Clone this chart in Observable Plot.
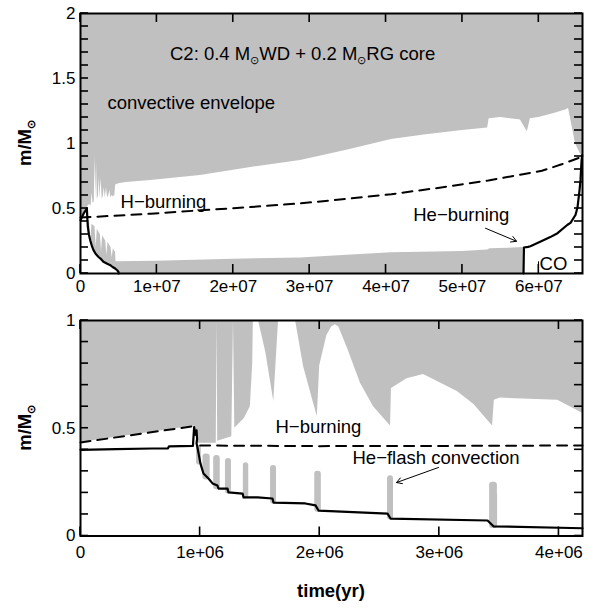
<!DOCTYPE html>
<html><head><meta charset="utf-8">
<script src="https://cdn.jsdelivr.net/npm/d3@7"></script>
<script src="https://cdn.jsdelivr.net/npm/@observablehq/plot@0.6"></script>
<style>
body{margin:0;background:#fff;}
#wrap{position:relative;width:595px;height:609px;}
#top,#bot{position:absolute;left:0;}
#top{top:0}#bot{top:300px}
</style></head><body>
<div id="wrap"><div id="top"></div><div id="bot"></div></div>
<script>
const FONT = '"Liberation Sans", Arial, Helvetica, sans-serif';
const GRAY = "#c0c0c0";

// ---------- TOP PANEL (time in units of 1e7 yr, mass in Msun) ----------
const topXMax = 6.572;
// upper edge of the white (radiative, H-burning) zone = base of convective envelope
const topHiT = [0.08,0.10,0.12,0.14,0.15,0.165,0.18,0.19,0.20,0.21,0.22,0.235,0.245,0.255,0.27,0.285,0.30,0.31,0.325,0.34,0.355,0.37,0.385,0.395,0.41,0.43,0.45,0.46,0.5,0.6,0.92,1.57,2.23,2.88,3.5,4.07,4.5,5.0,5.33,5.35,5.5,5.76,5.82,5.85,5.89,6.0,6.2,6.35,6.39,6.48,6.546,6.572];
const topHiM = [0.50,0.52,0.53,0.52,0.62,0.54,0.55,0.91,0.58,0.86,0.57,0.60,0.74,0.58,0.73,0.57,0.60,0.66,0.58,0.66,0.58,0.60,0.64,0.58,0.60,0.59,0.60,0.68,0.69,0.70,0.716,0.754,0.816,0.87,0.95,1.03,1.065,1.10,1.12,1.19,1.20,1.18,1.12,1.09,1.19,1.20,1.23,1.257,1.27,1.0,0.92,0.90];
// upper edge of the lower grey (convective) zone
const topLoT = [0.08,0.10,0.12,0.135,0.15,0.17,0.19,0.205,0.22,0.24,0.26,0.275,0.29,0.31,0.33,0.345,0.36,0.38,0.40,0.415,0.43,0.45,0.458,0.465,1.0,2.0,2.88,4.07,5.0,5.33,5.36,5.6,5.795,5.80,6.572];
const topLoM = [0.42,0.41,0.40,0.24,0.38,0.37,0.36,0.20,0.34,0.32,0.30,0.17,0.29,0.27,0.25,0.14,0.24,0.22,0.20,0.12,0.19,0.17,0.17,0.09,0.095,0.11,0.12,0.16,0.17,0.18,0.19,0.195,0.20,0,0];
// H-burning shell (dashed)
const topDashT = [0,0.92,1.57,2.2,2.89,3.5,4.07,4.7,5.34,6.04,6.3,6.572];
const topDashM = [0.43,0.46,0.486,0.51,0.54,0.575,0.61,0.66,0.716,0.79,0.84,0.90];
// He core boundary (solid), left part
const topSolidLT = [0,0.04,0.083,0.09,0.096,0.11,0.127,0.15,0.17,0.2,0.236,0.27,0.30,0.35,0.39,0.42,0.454,0.48,0.497,0.50];
const topSolidLM = [0.41,0.46,0.50,0.42,0.36,0.30,0.256,0.21,0.18,0.15,0.127,0.11,0.09,0.075,0.064,0.05,0.038,0.025,0.012,0];
// He-burning / CO core boundary (solid), right part
const topSolidRT = [5.80,5.805,5.86,5.89,6.06,6.15,6.245,6.376,6.415,6.48,6.507,6.533,6.546,6.56,6.568];
const topSolidRM = [0,0.20,0.205,0.21,0.256,0.28,0.31,0.375,0.39,0.45,0.51,0.64,0.72,0.87,0.91];
const topCOT = [5.996]; const topCOM1 = [0]; const topCOM2 = [0.09];
const topXTicks = [0,1,2,3,4,5,6];
const topXLabels = ["0","1e+07","2e+07","3e+07","4e+07","5e+07","6e+07"];
const topYTicks = [0,0.5,1,1.5,2];
const topYLabels = ["0","0.5","1","1.5","2"];
const topArrow = {x1:[5.302], y1:[0.348], x2:[5.708], y2:[0.248]};
const topTextT = [0.353, 0.524, 4.356, 6.01];
const topTextM = [1.269, 0.501, 0.401, 0.025];
const topTextS = ["convective envelope", "H\u2212burning", "He\u2212burning", "CO"];
const titlePos = [1.178, 1.637];

// ---------- BOTTOM PANEL (time in units of 1e6 yr) ----------
const botXMax = 4.197;
const botEnvT = [0,0.95,0.96,0.975,1.135,1.141,1.147,1.265,1.279,1.29,1.37,1.42,1.44,1.445,1.488,1.55,1.616,1.64,1.656,1.798,1.865,1.94,1.98,2.0,2.06,2.10,2.13,2.16,2.233,2.34,2.45,2.592,2.60,2.73,2.868,3.15,3.29,3.445,3.46,3.51,3.99,4.197];
const botEnvM = [0.434,0.51,0.50,0.43,0.43,1.0,0.44,0.46,1.0,0.50,0.545,0.60,0.80,1.0,1.0,0.85,0.624,0.85,1.0,1.0,0.787,0.633,0.555,0.79,0.93,0.97,0.98,0.97,0.87,0.71,0.60,0.51,0.685,0.73,0.75,0.67,0.61,0.51,0.63,0.64,0.63,0.57];
const botDashT = [0,0.95,0.975,1.0,2.0,3.0,4.197];
const botDashM = [0.434,0.51,NaN,0.42,0.417,0.418,0.42];
const botSolidT = [0,0.3,0.6,0.73,0.74,0.94,0.95,0.96,0.97,0.975,0.97,0.978,1.003,1.028,1.07,1.104,1.145,1.154,1.229,1.237,1.355,1.363,1.48,1.605,1.614,1.88,1.965,1.99,2.567,2.592,3.403,3.453,4.197];
const botSolidM = [0.40,0.403,0.406,0.406,0.416,0.418,0.505,0.47,0.49,0.45,0.43,0.411,0.336,0.29,0.267,0.244,0.234,0.22,0.22,0.202,0.197,0.179,0.179,0.174,0.155,0.151,0.142,0.118,0.104,0.081,0.072,0.045,0.036];
// He-flash convective zones
const flashT = [0.99,1.054,1.141,1.237,1.384,1.614,1.986,2.592,3.453,3.47];
const flashW = [0.04,0.06,0.055,0.05,0.045,0.05,0.055,0.05,0.065,0.035];
const flashTop = [0.42,0.38,0.373,0.36,0.34,0.327,0.30,0.28,0.25,0.20];
const flashBot = [0.33,0.26,0.215,0.195,0.172,0.148,0.11,0.074,0.035,0.035];
const botXTicks = [0,1,2,3,4];
const botXLabels = ["0","1e+06","2e+06","3e+06","4e+06"];
const botYTicks = [0,0.5,1];
const botYLabels = ["0","0.5","1"];
const botArrow = {x1:[2.993], y1:[0.318], x2:[2.642], y2:[0.248]};
const botTextT = [1.63, 2.274];
const botTextM = [0.476, 0.336];
const botTextS = ["H\u2212burning", "He\u2212flash convection"];

// ---------- helpers ----------
const W = 595, ML = 80, MR = 13;
const PW = W - ML - MR;
const zipTM = (T, M, k=1) => T.map((t,i) => ({t: t*k, m: M[i]}));
const minor = (hi) => d3.range(0, Math.round(hi*10)+1).map(i => i/10);
const TSY = 8, TSX = 9, TW = 1.6; // inward tick length / thickness in px

// axis labels + inward tick marks drawn as thin filled rects (px sizes converted to data units)
function axes(xVals, xLabels, k, xMax, yVals, yLabels, yMax, xPad, PH) {
  const xl = new Map(xVals.map((v,i)=>[v*k, xLabels[i]]));
  const yl = new Map(yVals.map((v,i)=>[v, yLabels[i]]));
  const xs = xVals.map(v=>v*k);
  const lx = xMax*TSY/PW, ly = yMax*TSX/PH;     // tick lengths
  const hx = xMax*TW/PW/2, hy = yMax*TW/PH/2;   // half thickness
  const ticks = [
    ...minor(yMax).map(v => ({a:0, b:lx, c:v-hy, d:v+hy})),
    ...minor(yMax).map(v => ({a:xMax-lx, b:xMax, c:v-hy, d:v+hy})),
    ...xs.map(v => ({a:v-hx, b:v+hx, c:0, d:ly})),
    ...xs.map(v => ({a:v-hx, b:v+hx, c:yMax-ly, d:yMax}))
  ];
  return [
    Plot.rect(ticks, {x1:"a", x2:"b", y1:"c", y2:"d", fill:"black"}),
    Plot.axisY(yVals, {anchor:"left", tickSize:0, tickPadding:5, tickFormat:d=>yl.get(d), label:null}),
    Plot.axisX(xs, {anchor:"bottom", tickSize:0, tickPadding:xPad, tickFormat:d=>xl.get(d), label:null})
  ];
}

function rich(svg, x, y, parts, {size=18.5, weight="normal", rotate=0, anchor="start"}={}) {
  const t = d3.select(svg).append("text")
    .attr("font-family", FONT).attr("font-size", size).attr("font-weight", weight)
    .attr("text-anchor", anchor).attr("fill", "black")
    .attr("transform", `translate(${x},${y}) rotate(${rotate})`);
  let shift = 0;
  for (const [s, sub] of parts) {
    const sp = t.append("tspan").text(s);
    const target = sub ? size*0.22 : 0;
    if (target !== shift) { sp.attr("dy", target - shift); shift = target; }
    if (sub) sp.attr("font-size", size*0.62);
  }
  return t;
}

const style = {fontFamily: FONT, fontSize: "17px", color: "black", background: "white", overflow: "visible"};
const lineOpt = {x:"t", y:"m", stroke:"black", strokeWidth:2.2};

// ---------- TOP PLOT ----------
const K1 = 1e7;
const topH = 300, topMT = 13, topMB = 27;
const topPlot = Plot.plot({
  width: W, height: topH,
  marginLeft: ML, marginRight: MR, marginTop: topMT, marginBottom: topMB,
  x: {domain: [0, topXMax*K1]}, y: {domain: [0, 2]},
  style,
  marks: [
    Plot.frame({fill: GRAY}),
    Plot.areaY(zipTM(topHiT, topHiM, K1), {x:"t", y1:0, y2:"m", fill:"white"}),
    Plot.areaY(zipTM(topLoT, topLoM, K1), {x:"t", y1:0, y2:"m", fill:GRAY}),
    Plot.areaY(zipTM(topSolidLT, topSolidLM, K1), {x:"t", y1:0, y2:"m", fill:"white"}),
    Plot.line(zipTM(topDashT, topDashM, K1), {...lineOpt, strokeWidth:2, strokeDasharray:"10,7"}),
    Plot.line(zipTM(topSolidLT, topSolidLM, K1), lineOpt),
    Plot.line(zipTM(topSolidRT, topSolidRM, K1), lineOpt),
    Plot.ruleX(topCOT.map((t,i)=>({t:t*K1, a:topCOM1[i], b:topCOM2[i]})), {x:"t", y1:"a", y2:"b", stroke:"black", strokeWidth:1}),
    Plot.arrow([0], {x1: topArrow.x1[0]*K1, y1: topArrow.y1[0], x2: topArrow.x2[0]*K1, y2: topArrow.y2[0], stroke:"black", strokeWidth:1, headLength:9}),
    Plot.text(topTextS.map((s,i)=>({s, t:topTextT[i]*K1, m:topTextM[i]})), {x:"t", y:"m", text:"s", textAnchor:"start", lineAnchor:"bottom", fontSize:18.5, fill:"black"}),
    ...axes(topXTicks, topXLabels, K1, topXMax*K1, topYTicks, topYLabels, 2, 6, topH - topMT - topMB),
    Plot.frame({stroke:"black", strokeWidth:2})
  ]
});
document.getElementById("top").append(topPlot);
{
  const sx = topPlot.scale("x"), sy = topPlot.scale("y");
  rich(topPlot, sx.apply(titlePos[0]*K1), sy.apply(titlePos[1]),
    [["C2: 0.4 M",0],["\u2299",1],["WD + 0.2 M",0],["\u2299",1],["RG core",0]]);
  rich(topPlot, 31, (sy.apply(0)+sy.apply(2))/2, [["m/M",0],["\u2299",1]], {weight:"bold", rotate:-90, anchor:"middle"});
}

// ---------- BOTTOM PLOT ----------
const K2 = 1e6;
const botH = 309, botMT = 20, botMB = 73.5;
const botPlot = Plot.plot({
  width: W, height: botH,
  marginLeft: ML, marginRight: MR, marginTop: botMT, marginBottom: botMB,
  x: {domain: [0, botXMax*K2]}, y: {domain: [0, 1]},
  style,
  marks: [
    Plot.areaY(zipTM(botEnvT, botEnvM, K2), {x:"t", y1:"m", y2:1, fill:GRAY}),
    Plot.rect(flashT.map((t,i)=>({x1:(t-flashW[i]/2)*K2, x2:(t+flashW[i]/2)*K2, y1:flashBot[i], y2:flashTop[i]})),
      {x1:"x1", x2:"x2", y1:"y1", y2:"y2", fill:GRAY, rx:3}),
    Plot.line(zipTM(botDashT, botDashM, K2), {...lineOpt, strokeWidth:2, strokeDasharray:"10,7"}),
    Plot.line(zipTM(botSolidT, botSolidM, K2), lineOpt),
    Plot.arrow([0], {x1: botArrow.x1[0]*K2, y1: botArrow.y1[0], x2: botArrow.x2[0]*K2, y2: botArrow.y2[0], stroke:"black", strokeWidth:1, headLength:9}),
    Plot.text(botTextS.map((s,i)=>({s, t:botTextT[i]*K2, m:botTextM[i]})), {x:"t", y:"m", text:"s", textAnchor:"start", lineAnchor:"bottom", fontSize:18.5, fill:"black"}),
    ...axes(botXTicks, botXLabels, K2, botXMax*K2, botYTicks, botYLabels, 1, 10, botH - botMT - botMB),
    Plot.frame({stroke:"black", strokeWidth:2})
  ]
});
document.getElementById("bot").append(botPlot);
{
  const sy = botPlot.scale("y"), sx = botPlot.scale("x");
  rich(botPlot, 31, (sy.apply(0)+sy.apply(1))/2, [["m/M",0],["\u2299",1]], {weight:"bold", rotate:-90, anchor:"middle"});
  rich(botPlot, (sx.apply(0)+sx.apply(botXMax*K2))/2, 297, [["time(yr)",0]], {weight:"bold", anchor:"middle"});
}
</script>
</body></html>
